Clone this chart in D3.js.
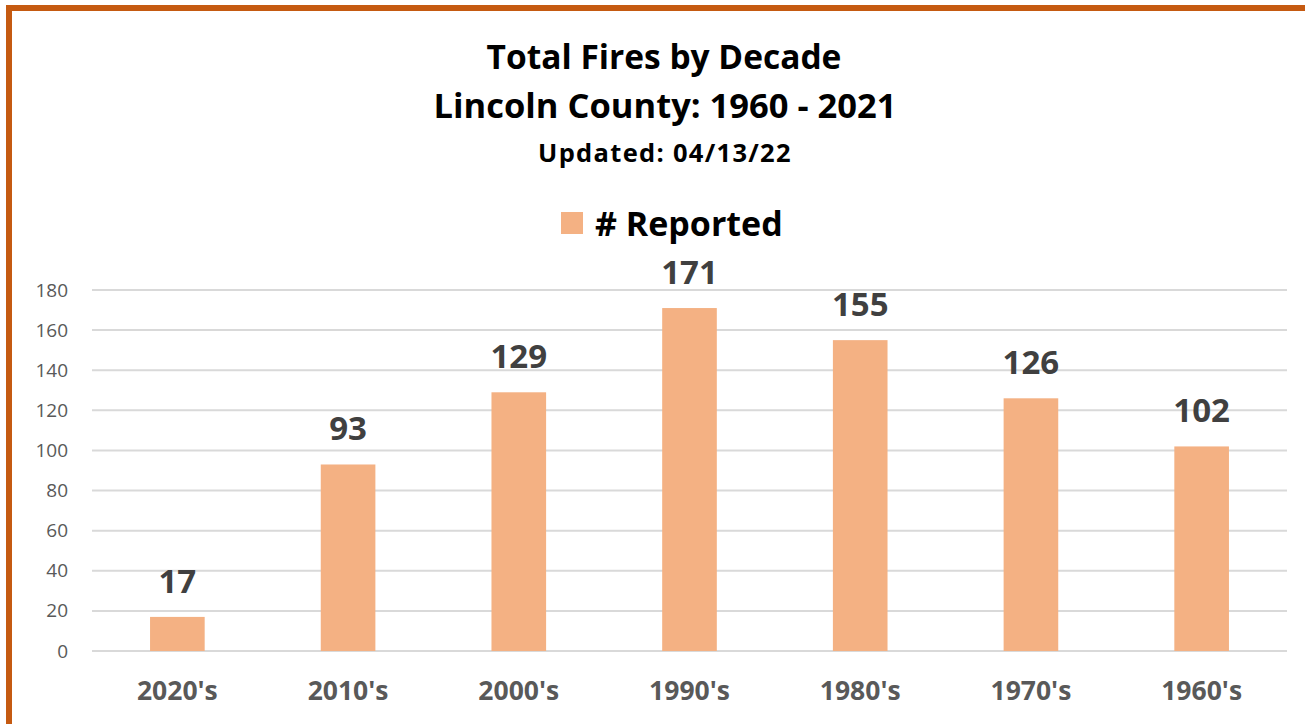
<!DOCTYPE html>
<html><head><meta charset="utf-8">
<script src="https://cdn.jsdelivr.net/npm/d3@7"></script>
<style>body{margin:0;background:#fff;}svg{display:block;font-family:"Open Sans",sans-serif;}</style>
</head><body>
<svg id="c" width="1305" height="724"></svg>
<script>
const categories = ["2020's","2010's","2000's","1990's","1980's","1970's","1960's"];
const reported = [17,93,129,171,155,126,102];
const yTicks = [0,20,40,60,80,100,120,140,160,180];
const titleLines = ["Total Fires by Decade","Lincoln County: 1960 - 2021"];
const subtitle = "Updated: 04/13/22";
const seriesName = "# Reported";

const svg = d3.select("#c");
svg.append("rect").attr("x",9).attr("y",8).attr("width",1320).attr("height",740)
  .attr("fill","#fff").attr("stroke","#C55A11").attr("stroke-width",6);

const x = d3.scaleBand().domain(categories).range([92,1287]).paddingInner(0.68).paddingOuter(0.34);
const y = d3.scaleLinear().domain([0,180]).range([651,290]);

// gridlines
svg.append("g").selectAll("line").data(yTicks).join("line")
  .attr("x1",92).attr("x2",1287).attr("y1",d=>y(d)).attr("y2",d=>y(d))
  .attr("stroke","#d9d9d9").attr("stroke-width",2);

// y axis labels
const ya = svg.append("g").attr("transform","translate(68,0)")
  .call(d3.axisLeft(y).tickValues(yTicks).tickSize(0).tickPadding(0));
ya.select(".domain").remove();
ya.selectAll("text").attr("font-size",19).attr("fill","#595959").attr("font-family","'Open Sans',sans-serif");

// bars
svg.append("g").selectAll("rect").data(reported).join("rect")
  .attr("x",(d,i)=>x(categories[i])).attr("width",x.bandwidth())
  .attr("y",d=>y(d)).attr("height",d=>y(0)-y(d)).attr("fill","#F4B183");

// data labels
svg.append("g").selectAll("text").data(reported).join("text")
  .attr("x",(d,i)=>x(categories[i])+x.bandwidth()/2).attr("y",d=>y(d)-24)
  .attr("text-anchor","middle").attr("font-size",33).attr("font-weight","bold").attr("fill","#404040")
  .text(d=>d);

// x axis
const xa = svg.append("g").attr("transform","translate(0,651)")
  .call(d3.axisBottom(x).tickSize(0).tickPadding(30));
xa.select(".domain").remove();
xa.selectAll("text").attr("font-size",26.5).attr("font-weight","bold").attr("fill","#595959").attr("font-family","'Open Sans',sans-serif");

// titles
svg.append("text").attr("x",664).attr("y",69).attr("text-anchor","middle").attr("font-size",33.5).attr("font-weight","bold").attr("fill","#000").text(titleLines[0]);
svg.append("text").attr("x",665).attr("y",118).attr("text-anchor","middle").attr("font-size",34.5).attr("font-weight","bold").attr("fill","#000").text(titleLines[1]);
svg.append("text").attr("x",665).attr("y",162).attr("text-anchor","middle").attr("font-size",25.5).attr("letter-spacing",1.3).attr("font-weight","bold").attr("fill","#000").text(subtitle);

// legend
svg.append("rect").attr("x",561).attr("y",212).attr("width",22).attr("height",22).attr("fill","#F4B183");
svg.append("text").attr("x",595).attr("y",236).attr("font-size",34).attr("font-weight","bold").attr("fill","#000").text(seriesName);
</script>
</body></html>
